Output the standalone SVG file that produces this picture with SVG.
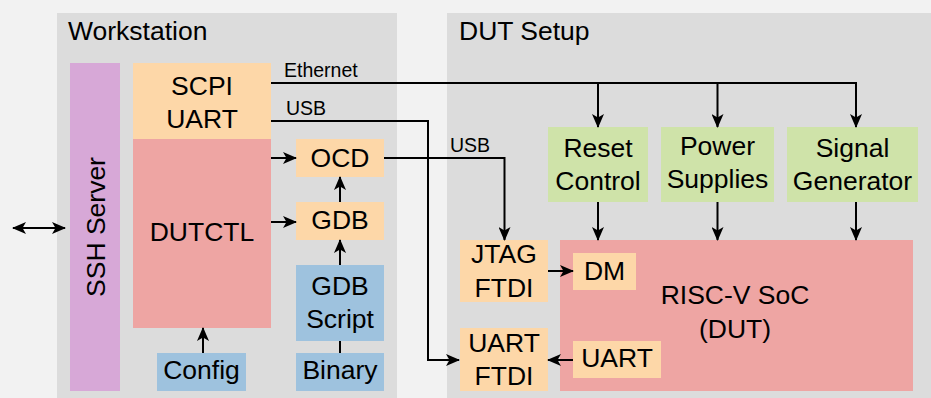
<svg xmlns="http://www.w3.org/2000/svg" width="931" height="398" viewBox="0 0 931 398">
<style>
text{font-family:"Liberation Sans",Arial,sans-serif;fill:#000}
.t{font-size:26.5px;text-anchor:middle}
.h{font-size:26.5px}
.l{font-size:19.5px}
.panel{fill:#dcdcdc}
.or{fill:#fdd7a8}
.pk{fill:#eea5a3}
.pu{fill:#d7a8d7}
.bl{fill:#9ec2de}
.gr{fill:#cfe3a9}
.c path{fill:none;stroke:#000;stroke-width:2}
</style>
<defs>
<marker id="ah" viewBox="0 0 14 12" refX="13" refY="6" markerWidth="14" markerHeight="12" markerUnits="userSpaceOnUse" orient="auto-start-reverse">
<path d="M0,0 L14,6 L0,12 L3.5,6 z" fill="#000"/>
</marker>
</defs>
<rect x="0" y="0" width="931" height="398" fill="#f2f2f2"/>
<g id="workstation">
<rect class="panel" x="57" y="13" width="340" height="385"/>
<text class="h" x="68" y="40">Workstation</text>
</g>
<g id="dut-setup">
<rect class="panel" x="447" y="13" width="484" height="385"/>
<text class="h" x="459" y="40">DUT Setup</text>
</g>
<g id="ssh-server">
<rect class="pu" x="70" y="63" width="50" height="328"/>
<text class="t" transform="translate(105,227) rotate(-90)">SSH Server</text>
</g>
<g id="scpi-uart">
<rect class="or" x="133" y="63" width="138" height="76"/>
<text class="t" x="202" y="95">SCPI</text>
<text class="t" x="202" y="128">UART</text>
</g>
<g id="dutctl">
<rect class="pk" x="133" y="139" width="138" height="189"/>
<text class="t" x="202" y="241">DUTCTL</text>
</g>
<g id="ocd">
<rect class="or" x="296" y="139" width="88" height="38"/>
<text class="t" x="340" y="167">OCD</text>
</g>
<g id="gdb">
<rect class="or" x="296" y="202" width="88" height="38"/>
<text class="t" x="340" y="229">GDB</text>
</g>
<g id="gdb-script">
<rect class="bl" x="296" y="265" width="88" height="76"/>
<text class="t" x="340" y="295">GDB</text>
<text class="t" x="340" y="328">Script</text>
</g>
<g id="binary">
<rect class="bl" x="296" y="353" width="88" height="38"/>
<text class="t" x="340" y="379">Binary</text>
</g>
<g id="config">
<rect class="bl" x="157" y="353" width="89" height="38"/>
<text class="t" x="201.5" y="379">Config</text>
</g>
<g id="reset-control">
<rect class="gr" x="548" y="127" width="100" height="75"/>
<text class="t" x="598" y="157">Reset</text>
<text class="t" x="598" y="190">Control</text>
</g>
<g id="power-supplies">
<rect class="gr" x="661" y="127" width="113" height="75"/>
<text class="t" x="717.5" y="155">Power</text>
<text class="t" x="717.5" y="188">Supplies</text>
</g>
<g id="signal-generator">
<rect class="gr" x="787" y="127" width="131" height="75"/>
<text class="t" x="852.5" y="157">Signal</text>
<text class="t" x="852.5" y="190">Generator</text>
</g>
<g id="jtag-ftdi">
<rect class="or" x="460" y="240" width="88" height="62"/>
<text class="t" x="504" y="263">JTAG</text>
<text class="t" x="504" y="297">FTDI</text>
</g>
<g id="uart-ftdi">
<rect class="or" x="460" y="328" width="88" height="63"/>
<text class="t" x="504" y="352">UART</text>
<text class="t" x="504" y="385">FTDI</text>
</g>
<g id="risc-v-soc">
<rect class="pk" x="560" y="240" width="353" height="151"/>
<text class="t" x="735" y="304">RISC-V SoC</text>
<text class="t" x="735" y="338">(DUT)</text>
</g>
<g id="dm">
<rect class="or" x="573" y="253" width="63" height="37"/>
<text class="t" x="604.5" y="280">DM</text>
</g>
<g id="uart-soc">
<rect class="or" x="573" y="341" width="88" height="37"/>
<text class="t" x="617" y="367">UART</text>
</g>
<g id="connectors" class="c">
<path d="M13,228 H65" marker-start="url(#ah)" marker-end="url(#ah)"/>
<path d="M271,83 H856 V127" marker-end="url(#ah)"/>
<path d="M598,83 V127" marker-end="url(#ah)"/>
<path d="M717.5,83 V127" marker-end="url(#ah)"/>
<path d="M271,121 H428 V360 H459" marker-end="url(#ah)"/>
<path d="M384,158 H504.5 V240" marker-end="url(#ah)"/>
<path d="M271,158 H296" marker-end="url(#ah)"/>
<path d="M271,222 H296" marker-end="url(#ah)"/>
<path d="M340,202 V177" marker-end="url(#ah)"/>
<path d="M340,265 V240" marker-end="url(#ah)"/>
<path d="M340,353 V341"/>
<path d="M203,353 V328" marker-end="url(#ah)"/>
<path d="M598,202 V240" marker-end="url(#ah)"/>
<path d="M717.5,202 V240" marker-end="url(#ah)"/>
<path d="M856,202 V240" marker-end="url(#ah)"/>
<path d="M548,271 H573" marker-end="url(#ah)"/>
<path d="M573,360 H548" marker-end="url(#ah)"/>
</g>
<g id="labels">
<text class="l" x="284" y="77">Ethernet</text>
<text class="l" x="286" y="115">USB</text>
<text class="l" x="450" y="152">USB</text>
</g>
</svg>
